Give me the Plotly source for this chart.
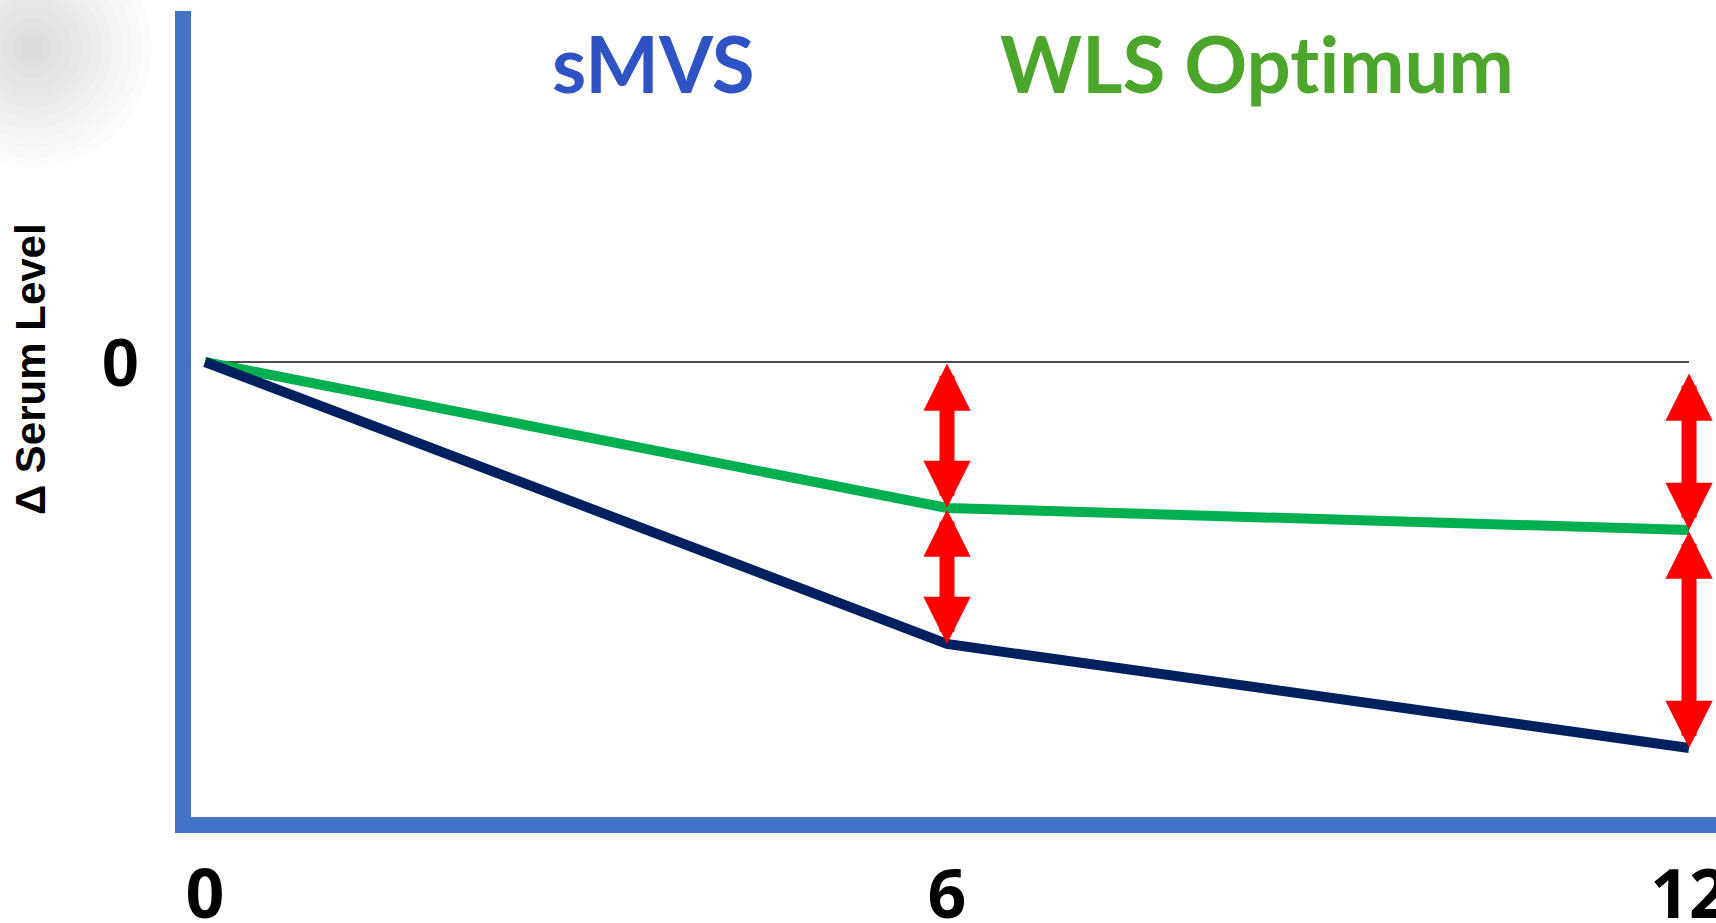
import plotly.graph_objects as go

# ---- data ----
months = [0, 6, 12]
tick_labels = ["0", "6", "12"]
smvs = [0.0, -2.82, -3.86]          # navy line
wls_optimum = [0.0, -1.46, -1.68]   # green line
zero_level = [0.0, 0.0, 0.0]
gap_top = [0.0, -0.10]              # upper tip of upper arrow at months 6 and 12
arrow_months = [6, 12]

W, H = 1716, 923
ML, MR, MT, MB = 191, 0, 11, 106
plot_w = W - ML - MR
plot_h = H - MT - MB

AXIS_BLUE = "#4472C4"
NAVY = "#002060"
GREEN = "#00B050"
RED = "#FF0000"

fig = go.Figure()

fig.add_trace(go.Scatter(x=[months[0], months[-1]], y=[zero_level[0], zero_level[-1]],
                         mode="lines", line=dict(color="#111111", width=1.3),
                         hoverinfo="skip", showlegend=False))
fig.add_trace(go.Scatter(x=months, y=wls_optimum, mode="lines",
                         line=dict(color=GREEN, width=10), name="WLS Optimum",
                         showlegend=False))
fig.add_trace(go.Scatter(x=months, y=smvs, mode="lines",
                         line=dict(color=NAVY, width=10), name="sMVS",
                         showlegend=False))

annotations = []
# red double-headed arrows showing the gaps
for i, m in enumerate(arrow_months):
    idx = months.index(m)
    segs = [(gap_top[i], wls_optimum[idx]), (wls_optimum[idx], smvs[idx])]
    for (y0, y1) in segs:
        annotations.append(dict(
            x=m, y=y1, ax=m, ay=y0, xref="x", yref="y", axref="x", ayref="y",
            text="", showarrow=True, arrowhead=2, startarrowhead=2,
            arrowside="end+start", arrowwidth=15, arrowsize=0.63,
            startarrowsize=0.63, arrowcolor=RED, standoff=0, startstandoff=0))

def px_to_paper_x(px):
    return (px - ML) / plot_w

def px_to_paper_y(py):
    return (H - MB - py) / plot_h

annotations.append(dict(text="sMVS", x=px_to_paper_x(653), y=px_to_paper_y(63),
                        xref="paper", yref="paper", showarrow=False,
                        xanchor="center", yanchor="middle",
                        font=dict(family="Lato", size=78, color="#2F52C4", weight=700)))
annotations.append(dict(text="WLS Opt\u200cimum", x=px_to_paper_x(1257), y=px_to_paper_y(63),
                        xref="paper", yref="paper", showarrow=False,
                        xanchor="center", yanchor="middle",
                        font=dict(family="Lato", size=78, color="#4CA62C", weight=700)))
annotations.append(dict(text="Δ Serum Level", x=px_to_paper_x(30), y=px_to_paper_y(369),
                        xref="paper", yref="paper", showarrow=False, textangle=-90,
                        xanchor="center", yanchor="middle",
                        font=dict(family="Liberation Sans", size=42, color="black", weight=700)))

shapes = []
# soft grey blur in the top-left corner
for r in range(120, 5, -10):
    shapes.append(dict(type="circle", xref="paper", yref="paper",
                       xsizemode="pixel", ysizemode="pixel",
                       xanchor=px_to_paper_x(32), yanchor=px_to_paper_y(48),
                       x0=-r, x1=r, y0=-r, y1=r,
                       fillcolor="rgba(0,0,0,0.013)", line=dict(width=0), layer="below"))

fig.update_layout(
    width=W, height=H,
    margin=dict(l=ML, r=MR, t=MT, b=MB, pad=0, autoexpand=False),
    paper_bgcolor="white", plot_bgcolor="white",
    showlegend=False,
    annotations=annotations,
    shapes=shapes,
    xaxis=dict(range=[-0.113, 12.218], showgrid=False, zeroline=False,
               automargin=False,
               showline=True, linewidth=16, linecolor=AXIS_BLUE,
               tickvals=months, ticktext=tick_labels, ticks="",
               ticklabelstandoff=3, ticklabeloverflow="allow",
               tickfont=dict(family="Open Sans", size=68, color="black", weight=700)),
    yaxis=dict(range=[-4.55, 3.51], showgrid=False, zeroline=False,
               automargin=False,
               showline=True, linewidth=16, linecolor=AXIS_BLUE,
               tickvals=[0], ticktext=["0"], ticks="",
               ticklabelstandoff=22,
               tickfont=dict(family="Liberation Sans", size=68, color="black", weight=700)),
)

fig.write_html("out.html", config={"displayModeBar": False},
               post_script="document.body.style.margin='0px';document.body.style.overflow='hidden';")
